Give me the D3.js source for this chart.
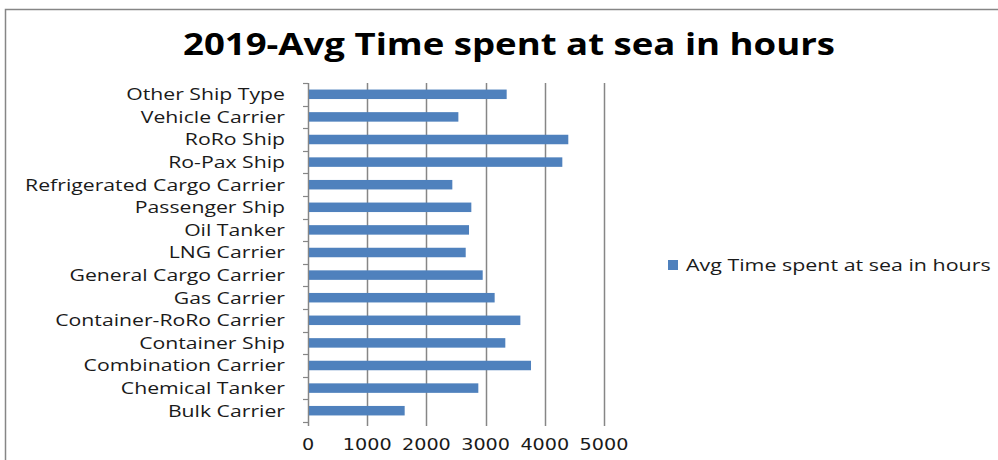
<!DOCTYPE html>
<html>
<head>
<meta charset="utf-8">
<script src="https://cdn.jsdelivr.net/npm/d3@7"></script>
<style>
  body { margin: 0; background: #fff; }
  svg { display: block; }
</style>
</head>
<body>
<svg width="998" height="460"></svg>
<script>
// categories, bottom to top as in the chart
var shipTypes = [
  "Bulk Carrier", "Chemical Tanker", "Combination Carrier", "Container Ship",
  "Container-RoRo Carrier", "Gas Carrier", "General Cargo Carrier", "LNG Carrier",
  "Oil Tanker", "Passenger Ship", "Refrigerated Cargo Carrier", "Ro-Pax Ship",
  "RoRo Ship", "Vehicle Carrier", "Other Ship Type"
];
var hoursAtSea = [
  1633, 2877, 3767, 3333, 3587, 3153, 2951, 2664,
  2720, 2759, 2438, 4296, 4397, 2540, 3356
];
var xTicks = [0, 1000, 2000, 3000, 4000, 5000];
var seriesName = "Avg Time spent at sea in hours";
var chartTitle = "2019-Avg Time spent at sea in hours";

var svg = d3.select("svg"),
    width = +svg.attr("width"),
    height = +svg.attr("height");

var plotL = 308, plotR = 604, plotT = 83, plotB = 422;

// outer chart frame
svg.append("rect")
    .attr("x", 5.5).attr("y", 9.5)
    .attr("width", 1100).attr("height", 600)
    .attr("fill", "none")
    .attr("stroke", "#868686")
    .attr("stroke-width", 1.5);

svg.append("text")
    .attr("x", 509).attr("y", 55)
    .attr("text-anchor", "middle")
    .attr("font-family", "Open Sans")
    .attr("font-weight", "bold")
    .attr("font-size", 30)
    .attr("fill", "#000")
    .attr("textLength", 652)
    .attr("lengthAdjust", "spacingAndGlyphs")
    .text(chartTitle);

var x = d3.scaleLinear().domain([0, 5000]).range([plotL, plotR]);
var y = d3.scaleBand().domain(shipTypes.slice().reverse()).range([plotT, plotB]);

// gridlines
svg.append("g")
  .selectAll("line")
  .data(xTicks)
  .enter().append("line")
    .attr("x1", function(d) { return Math.round(x(d)) + 0.5; })
    .attr("x2", function(d) { return Math.round(x(d)) + 0.5; })
    .attr("y1", plotT)
    .attr("y2", plotB + 4)
    .attr("stroke", "#868686")
    .attr("stroke-width", 1.5);

// category ticks left of the axis
var bounds = d3.range(shipTypes.length + 1).map(function(i) { return plotT + i * y.step(); });
svg.append("g")
  .selectAll("line")
  .data(bounds)
  .enter().append("line")
    .attr("x1", plotL - 5).attr("x2", plotL)
    .attr("y1", function(d) { return Math.round(d) + 0.5; })
    .attr("y2", function(d) { return Math.round(d) + 0.5; })
    .attr("stroke", "#868686")
    .attr("stroke-width", 1.2);

// bars
var barH = 9.5;
svg.append("g")
  .selectAll("rect")
  .data(shipTypes)
  .enter().append("rect")
    .attr("x", x(0) + 1)
    .attr("y", function(d) { return y(d) + y.bandwidth() / 2 - barH / 2; })
    .attr("width", function(d, i) { return x(hoursAtSea[i]) - x(0) - 1; })
    .attr("height", barH)
    .attr("fill", "#4f81bd");

// the source picture is stretched sideways, so the text is too
var sx = 1.31;

// category labels
svg.append("g")
  .selectAll("g")
  .data(shipTypes)
  .enter().append("g")
    .attr("transform", function(d) {
      return "translate(285," + (y(d) + y.bandwidth() / 2 + 5.8) + ") scale(" + sx + ",1)";
    })
  .append("text")
    .attr("text-anchor", "end")
    .attr("font-family", "Open Sans")
    .attr("font-size", 16.2)
    .attr("fill", "#1a1a1a")
    .text(function(d) { return d; });

// value axis labels
svg.append("g")
  .selectAll("g")
  .data(xTicks)
  .enter().append("g")
    .attr("transform", function(d) { return "translate(" + x(d) + ",450) scale(1.28,1)"; })
  .append("text")
    .attr("text-anchor", "middle")
    .attr("font-family", "DejaVu Sans")
    .attr("font-size", 15)
    .attr("fill", "#1a1a1a")
    .text(function(d) { return d; });

// legend
svg.append("rect")
    .attr("x", 668).attr("y", 260)
    .attr("width", 10).attr("height", 10)
    .attr("fill", "#4f81bd");
svg.append("g")
    .attr("transform", "translate(686,271) scale(1.26,1)")
  .append("text")
    .attr("font-family", "Open Sans")
    .attr("font-size", 17)
    .attr("fill", "#1a1a1a")
    .text(seriesName);
</script>
</body>
</html>
